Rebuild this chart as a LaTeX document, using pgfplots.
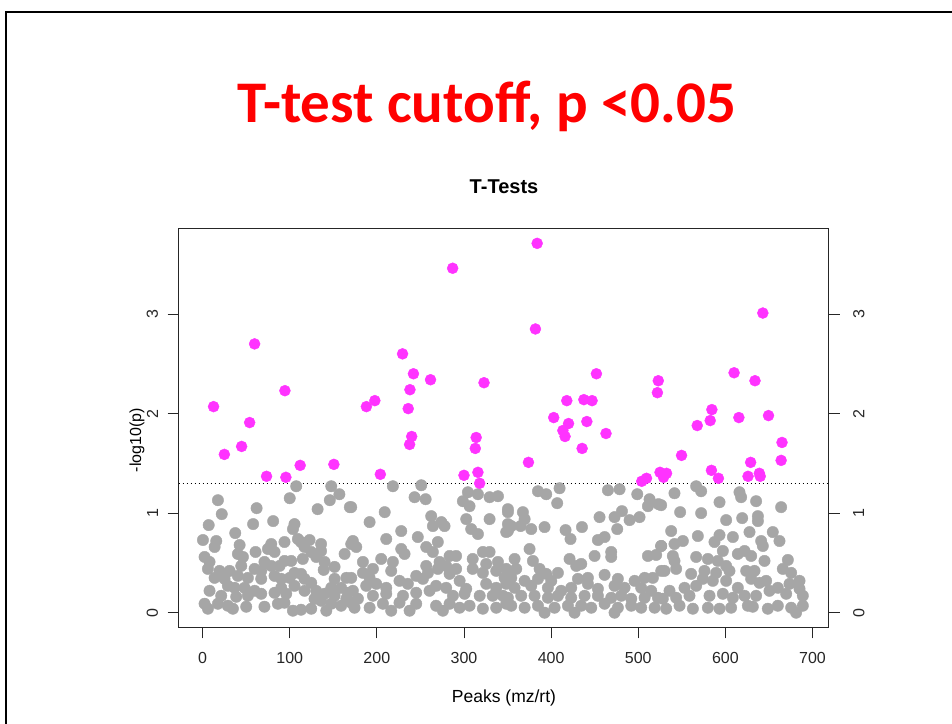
\documentclass[border=0pt]{standalone}
\usepackage{fontspec}
\setmainfont{Liberation Sans}
\newfontfamily\calibri{Carlito}
\usepackage{pgfplots}
\usepackage{pgfplotstable}
\pgfplotsset{compat=1.18}
\definecolor{ptgray}{HTML}{A6A6A6}
\definecolor{ptmag}{HTML}{FF33FF}

\pgfplotstableread{
x y
107.5 1.27
147.7 1.27
157 1.19
146 1.13
100 1.15
17.6 1.13
62 1.05
132 1.04
169 1.06
22 0.99
7 0.88
58 0.89
81 0.92
105.5 0.89
103.7 0.84
37.5 0.80
0.4 0.73
15.7 0.72
13.8 0.66
42.5 0.68
78.8 0.69
94 0.71
109.4 0.74
113 0.71
122.8 0.73
136 0.69
117 0.66
124.7 0.61
136 0.62
170.6 0.69
163 0.59
60.8 0.61
75 0.64
82.6 0.61
40.5 0.59
46.3 0.56
2.3 0.56
8 0.51
115 0.54
130.4 0.56
140 0.51
151.5 0.46
139 0.43
94 0.52
101.7 0.52
71 0.51
78.8 0.47
88.4 0.47
44.4 0.47
19.5 0.42
31 0.42
6.1 0.44
59.7 0.44
67.3 0.42
105.5 0.40
113 0.39
13.8 0.35
25.2 0.34
40.5 0.37
52 0.35
67.3 0.34
82.6 0.37
90.3 0.34
100 0.35
117 0.34
124.7 0.30
151.5 0.34
165 0.35
147.7 0.25
159 0.25
166.8 0.20
8 0.22
29 0.27
36.7 0.25
48.2 0.25
59.7 0.22
90.3 0.25
105.5 0.27
21.4 0.17
38.6 0.16
52 0.17
67.3 0.19
82.6 0.20
96 0.19
117 0.22
130.4 0.22
140 0.19
151.5 0.17
165 0.14
2.3 0.09
17.6 0.09
29 0.07
50.1 0.06
71 0.06
86.4 0.09
128.5 0.14
136 0.12
147.7 0.09
159 0.07
170.6 0.10
6.1 0.04
34.8 0.04
103.7 0.02
113 0.03
124.7 0.04
142 0.02
94 0.10
218.4 1.27
251 1.28
243.3 1.16
256 1.14
304.5 1.21
316 1.19
298.7 1.12
306.4 1.07
329.4 1.16
339 1.17
350.4 1.04
170.6 1.06
209 1.01
191.7 0.91
262.4 0.97
274 0.91
264.3 0.87
277.7 0.87
302.6 0.94
329.4 0.94
308.3 0.84
316 0.79
350.4 0.89
348.5 0.81
228 0.82
210.8 0.74
247 0.76
270 0.71
256.7 0.66
172.5 0.72
176.4 0.66
228 0.64
231.8 0.59
264.3 0.61
283.5 0.57
291 0.57
321.7 0.61
329.4 0.61
310 0.54
325.5 0.49
339 0.51
184 0.51
205 0.54
218.4 0.51
256.7 0.47
272 0.51
279.6 0.47
310 0.44
170.6 0.35
184 0.40
195.5 0.44
191.7 0.35
216.5 0.42
245.2 0.37
258.6 0.40
270 0.44
291 0.44
283.5 0.39
295 0.32
321.7 0.40
337 0.42
346.6 0.35
172.5 0.22
187.8 0.27
199.3 0.29
210.8 0.25
226 0.32
235.6 0.29
252.9 0.34
268 0.27
279.6 0.25
302.6 0.24
325.5 0.29
337 0.25
348.5 0.29
178.3 0.14
195.5 0.17
210.8 0.19
230 0.17
245.2 0.20
260.5 0.22
287.3 0.17
300.7 0.19
318 0.17
333 0.17
344.7 0.17
174.4 0.05
191.7 0.05
207 0.09
226 0.10
245.2 0.09
268 0.07
283.5 0.09
295 0.05
306.4 0.07
321.7 0.04
337 0.05
348.5 0.09
216.5 0.02
237.6 0.02
275.8 0.02
384.9 1.22
394.4 1.19
409.7 1.25
407 1.10
465.2 1.23
478.6 1.24
498.9 1.19
513 1.14
511.1 1.07
523.3 1.09
350.4 1.01
367.6 1.01
369.6 0.94
354.3 0.87
350.4 0.82
365 0.87
377.2 0.84
392.5 0.86
416.6 0.83
435.4 0.86
422.3 0.74
455.6 0.96
472.8 0.96
481.3 1.02
490.1 0.93
501.5 0.96
475.9 0.84
453.7 0.73
461.4 0.76
526.4 0.67
375.3 0.64
449.9 0.57
469 0.61
469 0.56
511.1 0.57
520.6 0.58
358.1 0.54
379.1 0.52
421.2 0.54
428.8 0.47
434.6 0.49
348.5 0.44
360 0.44
386.8 0.44
394.4 0.39
407.8 0.40
354.3 0.35
369.6 0.32
384.9 0.34
400.2 0.32
430.8 0.34
442.2 0.35
461.4 0.38
476.6 0.34
495.8 0.32
507.3 0.35
516.8 0.35
526.4 0.42
358.1 0.25
377.2 0.27
396.3 0.25
411.6 0.22
423.1 0.25
442.2 0.29
453.7 0.24
472.8 0.27
484.3 0.25
503.4 0.25
514.9 0.22
350.4 0.15
365.7 0.17
381 0.17
396.3 0.15
407.8 0.17
423.1 0.15
438.4 0.17
453.7 0.17
469 0.15
480.5 0.17
492 0.14
507.3 0.15
522.6 0.15
354.3 0.07
369.6 0.05
384.9 0.07
404 0.05
419.3 0.07
434.6 0.07
446.1 0.05
461.4 0.09
476.6 0.05
492 0.07
503.4 0.05
518.8 0.05
392.5 0.00
426.9 0.00
472.8 0.00
566.5 1.27
572.2 1.22
616.2 1.21
618.1 1.16
541.6 1.20
593.3 1.11
635.3 1.12
664 1.06
526.3 1.08
548.1 1.01
572.2 1.00
600.9 0.93
619.3 0.95
637.3 0.97
637.3 0.92
537.8 0.82
568.4 0.77
593.3 0.78
608.6 0.76
627.7 0.81
654.4 0.81
662.1 0.72
641.1 0.72
643 0.67
526.3 0.67
541.6 0.69
551.2 0.72
587.5 0.71
597.1 0.62
614.3 0.59
622 0.62
629.6 0.57
539.7 0.57
541.6 0.52
566.5 0.56
579.9 0.54
591.3 0.52
600.9 0.47
644.9 0.52
671.7 0.53
530.1 0.42
543.5 0.44
560.7 0.39
576 0.42
589.4 0.40
604.7 0.42
623.9 0.42
633.4 0.42
665.9 0.44
675.5 0.40
685.1 0.32
535.9 0.22
553.1 0.25
566.5 0.27
574.1 0.34
585.6 0.32
600.9 0.32
614.3 0.25
629.6 0.34
639.2 0.30
646.8 0.32
660.2 0.25
673.6 0.29
685.1 0.24
528.2 0.14
543.5 0.15
558.8 0.17
581.8 0.17
597.1 0.19
608.6 0.15
622 0.17
635.3 0.17
650.6 0.22
669.8 0.19
688.9 0.17
532.1 0.04
547.4 0.07
562.7 0.04
579.9 0.05
593.3 0.04
606.6 0.05
625.8 0.07
631.5 0.06
648.7 0.04
660.2 0.07
675.5 0.05
688.9 0.07
681.2 0.00
}\graydata

\pgfplotstableread{
x y
12.6 2.07
25 1.59
44.8 1.67
54 1.91
59.7 2.70
73.4 1.37
94.5 2.23
95.6 1.36
112 1.48
150.7 1.49
188 2.07
197.7 2.13
204 1.39
229.5 2.60
236 2.05
238 2.24
242 2.40
237.6 1.69
240 1.77
261.6 2.34
287 3.46
300 1.38
313 1.65
314 1.76
316 1.41
318 1.30
323 2.31
374 1.51
382 2.85
384 3.71
403 1.96
413.5 1.83
416 1.77
418 2.13
420 1.90
435.6 1.65
437.6 2.14
441 1.92
447 2.13
452 2.40
463 1.80
504 1.32
509.5 1.35
522 2.21
523 2.33
525 1.41
529 1.36
532.5 1.40
549.7 1.58
567.7 1.88
582.6 1.93
584.5 2.04
584 1.43
592 1.35
610 2.41
615.5 1.96
626 1.37
629 1.51
634 2.33
639 1.40
640 1.37
643 3.01
649.5 1.98
664 1.53
665 1.71
}\magdata

\pgfplotsset{
  base/.style={
    at={(205,96)}, anchor=south west,
    scale only axis, width=650pt, height=399pt,
    xmin=-27.5, xmax=718.5, ymin=-0.148, ymax=3.86,
    axis line style={line width=1pt, black!85},
    tick style={line width=0.9pt, black!85},
    major tick length=11pt, tick align=outside,
    ytick={0,1,2,3},
    ticklabel style={font=\fontsize{16}{19}\selectfont, black!85},
    /pgf/number format/assume math mode=true,
  }
}

\begin{document}
\begin{tikzpicture}[x=1pt,y=1pt]
\useasboundingbox (0,0) rectangle (952,723);
\fill[white] (0,0) rectangle (952,723);
\draw[line width=2.5pt] (6,-20) -- (6,711) -- (980,711);
\node[font=\calibri\bfseries\fontsize{59}{70}\selectfont, text=red, anchor=base] at (487,600) {T-test cutoff, p <0.05};
\node[font=\bfseries\fontsize{20}{24}\selectfont, anchor=base] at (504,529) {T-Tests};
\node[font=\fontsize{17.5}{21}\selectfont, anchor=base] at (504,21) {Peaks (mz/rt)};
\node[font=\fontsize{16}{19}\selectfont, rotate=90] at (137,283) {-log10(p)};

\begin{axis}[base,
    xtick={0,100,...,700}, xtick pos=bottom,
    xticklabel style={yshift=-10pt},
    ytick pos=left,
    yticklabel style={rotate=90, anchor=south, yshift=6pt},
  ]
  \addplot[only marks, mark=*, mark size=5.7pt, color=ptgray] table {\graydata};
  \addplot[only marks, mark=*, mark size=5.5pt, color=ptmag] table {\magdata};
  \addplot[black, line width=1.1pt, dash pattern=on 1.6pt off 2.4pt] coordinates {(-27.5,1.3) (718.5,1.3)};
\end{axis}
\begin{axis}[base,
    xtick=\empty,
    ytick pos=right, yticklabel pos=right,
    yticklabel style={rotate=90, anchor=north, yshift=-10pt},
  ]
\end{axis}
\end{tikzpicture}
\end{document}
